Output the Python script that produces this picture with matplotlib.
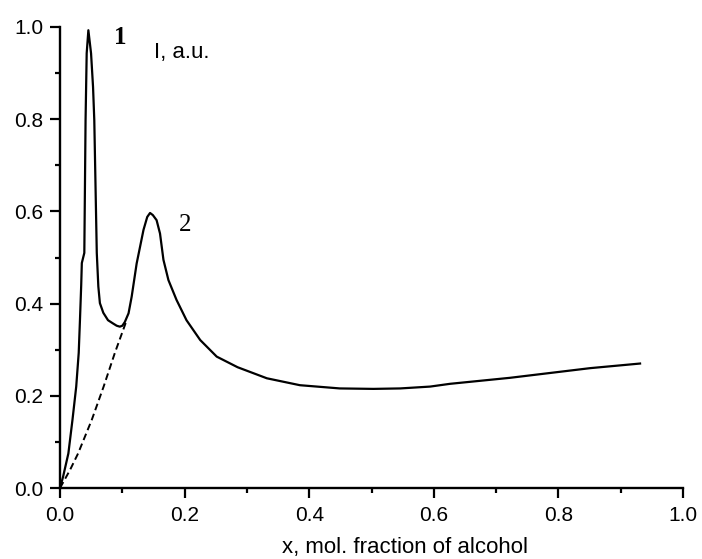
import numpy as np
from matplotlib import pyplot as plt
from matplotlib.ticker import MultipleLocator

# curve 1 (solid) and start of curve 2 (dashed)
x_solid = [0.0, 0.005, 0.0134, 0.020, 0.026, 0.030, 0.032, 0.034, 0.035, 0.039, 0.040,
           0.041, 0.0428, 0.0455, 0.0498, 0.053, 0.055, 0.057, 0.059, 0.0615, 0.064,
           0.0695, 0.077, 0.085, 0.091, 0.096, 0.100, 0.104, 0.110, 0.115, 0.123,
           0.134, 0.140, 0.1445, 0.149, 0.155, 0.1605, 0.166, 0.174, 0.187, 0.203,
           0.225, 0.2515, 0.285, 0.332, 0.385, 0.449, 0.503, 0.546, 0.594, 0.626,
           0.722, 0.851, 0.931]
y_solid = [0.0, 0.025, 0.075, 0.148, 0.22, 0.293, 0.364, 0.44, 0.488, 0.51, 0.654,
           0.798, 0.943, 0.993, 0.943, 0.87, 0.798, 0.654, 0.51, 0.437, 0.401,
           0.38, 0.364, 0.357, 0.352, 0.350, 0.352, 0.360, 0.379, 0.415, 0.487,
           0.56, 0.588, 0.5966, 0.592, 0.581, 0.552, 0.495, 0.451, 0.408, 0.364,
           0.321, 0.285, 0.262, 0.238, 0.223, 0.216, 0.215, 0.216, 0.220, 0.226,
           0.239, 0.26, 0.270]

x_dash = [0.0, 0.016, 0.029, 0.051, 0.070, 0.088, 0.107]
y_dash = [0.0, 0.039, 0.075, 0.148, 0.22, 0.293, 0.364]

plt.rcParams['font.family'] = ['Liberation Sans', 'DejaVu Sans']

fig = plt.figure(figsize=(7.02, 5.59), dpi=100)
ax = fig.add_axes([0.0855, 0.127, 0.8875, 0.8247])

ax.plot(x_solid, y_solid, color='black', linewidth=1.6)
ax.plot(x_dash, y_dash, color='black', linewidth=1.4, linestyle=(0, (3.5, 2)))

ax.set_xlim(0, 1.0)
ax.set_ylim(0, 1.0)
ax.xaxis.set_major_locator(MultipleLocator(0.2))
ax.xaxis.set_minor_locator(MultipleLocator(0.1))
ax.yaxis.set_major_locator(MultipleLocator(0.2))
ax.yaxis.set_minor_locator(MultipleLocator(0.1))
ax.xaxis.set_major_formatter(plt.FormatStrFormatter('%.1f'))
ax.yaxis.set_major_formatter(plt.FormatStrFormatter('%.1f'))

ax.spines['top'].set_visible(False)
ax.spines['right'].set_visible(False)
ax.spines['left'].set_linewidth(1.7)
ax.spines['bottom'].set_linewidth(1.7)
ax.tick_params(which='major', direction='out', length=7, width=1.6, labelsize=15)
ax.tick_params(which='minor', direction='out', length=3.5, width=1.6)
ax.tick_params(axis='x', which='major', pad=6)
ax.tick_params(axis='y', which='major', pad=5)

ax.set_xlabel('x, mol. fraction of alcohol', fontsize=16)
ax.xaxis.set_label_coords(0.554, -0.106)

ax.text(0.096, 0.978, '1', fontsize=18, family='Liberation Serif', weight='bold',
        ha='center', va='center')
ax.text(0.2006, 0.570, '2', fontsize=18, family='Liberation Serif', ha='center', va='center')
ax.text(0.196, 0.944, 'I, a.u.', fontsize=16, ha='center', va='center')

fig.savefig('out.png', dpi=100)
